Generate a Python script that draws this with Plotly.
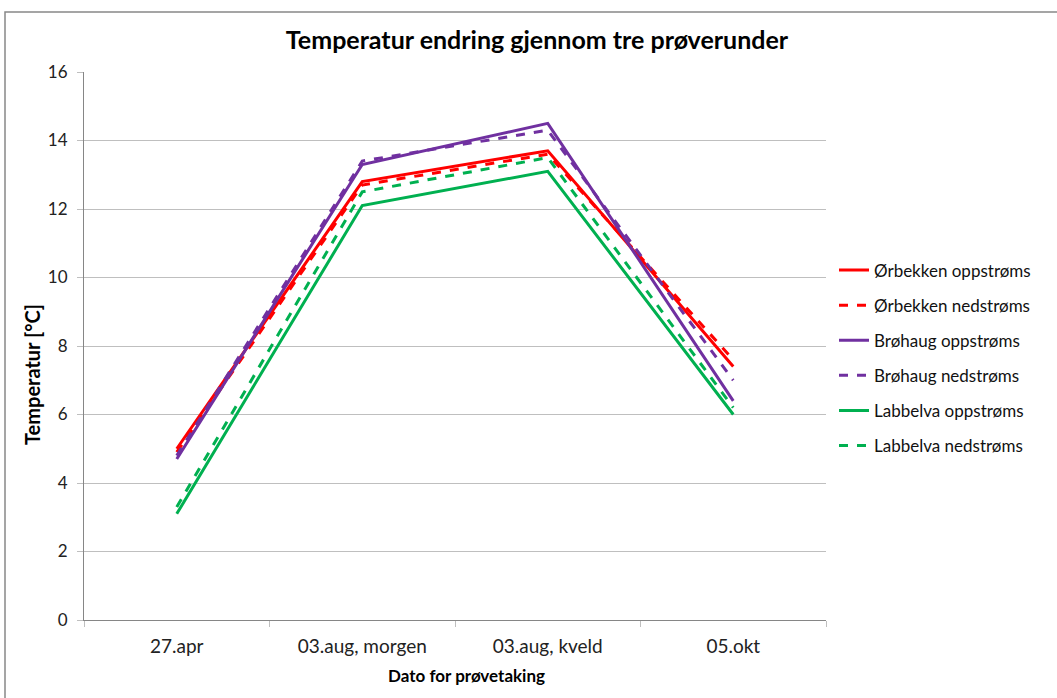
import plotly.graph_objects as go

categories = ["27.apr", "03.aug, morgen", "03.aug, kveld", "05.okt"]
series_names = ["Ørbekken oppstrøms", "Ørbekken nedstrøms", "Brøhaug oppstrøms",
                "Brøhaug nedstrøms", "Labbelva oppstrøms", "Labbelva nedstrøms"]
orbekken_opp = [5.0, 12.8, 13.7, 7.4]
orbekken_ned = [4.9, 12.7, 13.6, 7.6]
brohaug_opp = [4.7, 13.3, 14.5, 6.4]
brohaug_ned = [4.8, 13.4, 14.3, 7.0]
labbelva_opp = [3.1, 12.1, 13.1, 6.0]
labbelva_ned = [3.3, 12.5, 13.5, 6.2]

values = [orbekken_opp, orbekken_ned, brohaug_opp, brohaug_ned, labbelva_opp, labbelva_ned]
colors = ["#FF0000", "#FF0000", "#7030A0", "#7030A0", "#00B050", "#00B050"]
dashes = ["solid", "dash", "solid", "dash", "solid", "dash"]

FONT = "Lato"
fig = go.Figure()
for i, (name, vals) in enumerate(zip(series_names, values)):
    fig.add_trace(go.Scatter(
        x=categories, y=vals, name=name, mode="lines",
        line=dict(color=colors[i], width=3, dash=dashes[i]),
        legendgroup=f"g{i}",
    ))

L, R, T, B = 84, 826, 72, 620
W, H = 1057, 698
pw, ph = R - L, B - T

fig.update_layout(
    width=W, height=H,
    margin=dict(l=L, r=W - R, t=T, b=H - B),
    paper_bgcolor="white", plot_bgcolor="white",
    font=dict(family=FONT, size=17, color="#222222"),
    title=dict(text="<b>Temperatur endring gjennom tre prøverunder</b>",
               x=537 / W, xanchor="center", y=1 - 40 / H, yanchor="middle",
               font=dict(family=FONT, size=25, color="#000000")),
    showlegend=True,
    legend=dict(x=(834 - L) / pw, xanchor="left", y=(B - 358) / ph, yanchor="middle",
                font=dict(family=FONT, size=17, color="#111111"),
                tracegroupgap=10, traceorder="grouped", bgcolor="rgba(0,0,0,0)"),
    xaxis=dict(
        type="category", range=[-0.5, 3.5], tickson="boundaries",
        showline=True, linecolor="#868686", linewidth=1,
        ticks="outside", ticklen=6, tickcolor="#BFBFBF",
        showgrid=False, zeroline=False, ticklabelstandoff=9,
        tickfont=dict(family=FONT, size=19, color="#222222"),
    ),
    yaxis=dict(
        range=[0, 16], dtick=2, tickformat="d",
        showline=True, linecolor="#868686", linewidth=1,
        ticks="outside", ticklen=6, tickcolor="#BFBFBF",
        showgrid=True, gridcolor="#BFBFBF", gridwidth=1, zeroline=False,
        ticklabelstandoff=6,
        tickfont=dict(family=FONT, size=17, color="#222222"),
    ),
    annotations=[
        dict(text="<b>Dato for prøvetaking</b>", xref="paper", yref="paper",
             x=(467 - L) / pw, y=(B - 675) / ph, xanchor="center", yanchor="middle",
             showarrow=False, font=dict(family=FONT, size=17, color="#000000")),
        dict(text="<b>Temperatur [°C]</b>", xref="paper", yref="paper",
             x=(32 - L) / pw, y=(B - 375) / ph, xanchor="center", yanchor="middle",
             textangle=-90, showarrow=False,
             font=dict(family=FONT, size=20, color="#000000")),
    ],
    shapes=[dict(type="rect", xref="paper", yref="paper",
                 x0=(5 - L) / pw, x1=(W + 5 - L) / pw,
                 y0=(B - (H + 5)) / ph, y1=(B - 12) / ph,
                 line=dict(color="#888888", width=1.5), fillcolor="rgba(0,0,0,0)",
                 layer="below")],
)

fig.write_html("out.html")
